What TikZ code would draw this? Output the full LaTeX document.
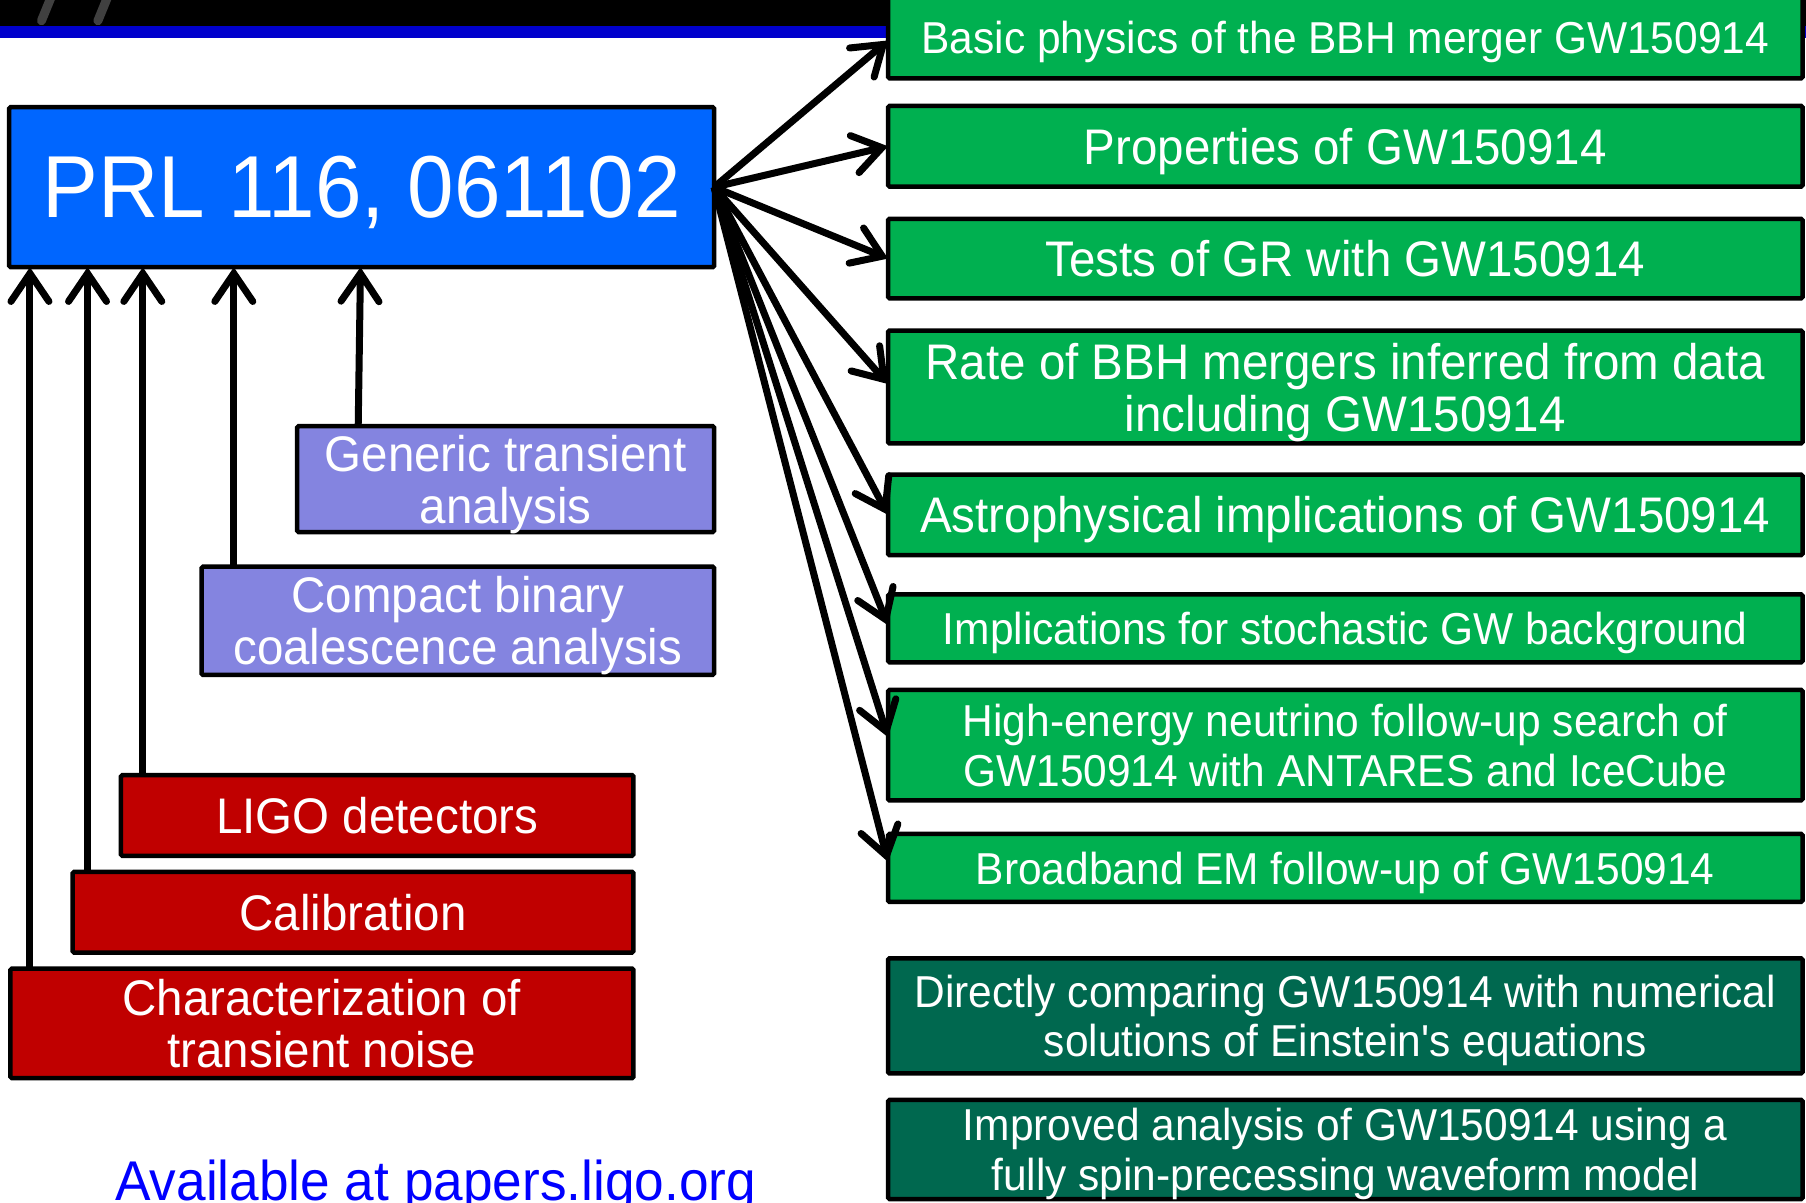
\documentclass[tikz,border=0pt]{standalone}
\usepackage{fontspec}
\setmainfont[FakeStretch=0.95,Ligatures=TeXOff]{Liberation Sans}
\usetikzlibrary{arrows.meta,calc}
\definecolor{grn}{HTML}{00B050}
\definecolor{dgrn}{HTML}{00684F}
\definecolor{prlblue}{HTML}{0066FF}
\definecolor{purp}{HTML}{8484E0}
\definecolor{rd}{HTML}{C00000}
\definecolor{stripe}{HTML}{0000CC}
\definecolor{slash}{HTML}{404040}
\newcommand\fbig{\fontsize{50pt}{52pt}\selectfont}
\newcommand\fsml{\fontsize{44.7pt}{49.5pt}\selectfont}
% \bx{style}{x1}{y1}{x2}{y2}{name}{text}
\newcommand\bx[7]{\node[#1, minimum width={(#4-#2)*1.1518pt}, minimum height={(#5-#3)*1.1518pt}] (#6) at ({(#2+#4)/2},{(#3+#5)/2}) {#7};}
\begin{document}
\begin{tikzpicture}[x=1.1518pt,y=-1.1518pt,
  box/.style={draw=black, line width=4.5pt, inner sep=0pt, outer sep=0pt,
              text=white, align=center, rounded corners=1.5pt, text depth=0pt},
  gbox/.style={box, fill=grn},
  dbox/.style={box, fill=dgrn},
  pbox/.style={box, fill=purp},
  rbox/.style={box, fill=rd},
  arr/.style={line width=7pt, -{Straight Barb[length=28pt,width=38pt,line cap=round]}}]
\useasboundingbox (0,0) rectangle (1568,1044);
\clip (0,0) rectangle (1568,1044);
\fill[white] (0,0) rectangle (1568,1044);
% header band
\fill[black] (0,-5) rectangle (1568,23);
\fill[stripe] (0,23) rectangle (1568,33);
\draw[slash, line width=9pt, line cap=round] (36,18) -- (45,-4);
\draw[slash, line width=9pt, line cap=round] (85,18) -- (94,-4);
% main node
\bx{box, fill=prlblue, font=\fontsize{88pt}{90pt}\selectfont}{8}{93}{620}{232}{prl}{PRL 116, 061102}
% green boxes
\bx{gbox, font=\fsml}{771}{-3}{1565}{68}{g1}{Basic physics of the BBH merger GW150914}
\bx{gbox, font=\fbig}{771}{92}{1565}{162}{g2}{Properties of GW150914}
\bx{gbox, font=\fbig}{771}{190}{1565}{259}{g3}{Tests of GR with GW150914}
\bx{gbox, font=\fbig}{771}{287}{1565}{385}{g4}{Rate of BBH mergers inferred from data\\including GW150914}
\bx{gbox, font=\fbig}{771}{412}{1565}{482}{g5}{Astrophysical implications of GW150914}
\bx{gbox, font=\fsml}{771}{516}{1565}{575}{g6}{Implications for stochastic GW background}
\bx{gbox, font=\fsml}{771}{599}{1565}{695}{g7}{High-energy neutrino follow-up search of\\GW150914 with ANTARES and IceCube}
\bx{gbox, font=\fsml}{771}{724}{1565}{783}{g8}{Broadband EM follow-up of GW150914}
\bx{dbox, font=\fsml}{771}{832}{1565}{932}{d9}{Directly comparing GW150914 with numerical\\solutions of Einstein's equations}
\bx{dbox, font=\fsml}{771}{955}{1565}{1041}{d10}{Improved analysis of GW150914 using a\\fully spin-precessing waveform model}
% input boxes
\bx{pbox, font=\fbig}{258}{370}{620}{462}{p1}{Generic transient\\analysis}
\bx{pbox, font=\fbig}{175}{492}{620}{586}{p2}{Compact binary\\coalescence analysis}
\bx{rbox, font=\fbig}{105}{673}{550}{743}{r1}{LIGO detectors}
\bx{rbox, font=\fbig}{63}{757}{550}{827}{r2}{Calibration}
\bx{rbox, font=\fbig}{9}{841}{550}{936}{r3}{Characterization of\\transient noise}
% footer text
\node[anchor=base west, inner sep=0pt, text={rgb,255:red,0;green,0;blue,255}, font=\fontsize{56pt}{60pt}\selectfont] (avail) at (100,1042) {Available at papers.ligo.org};
% upward arrows
\coordinate (xa) at (26,0);
\coordinate (xb) at (76,0);
\coordinate (xc) at (124,0);
\coordinate (xd) at (203,0);
\coordinate (xe) at (311,0);
\coordinate (xf) at (313,0);
\draw[arr] (r3.north -| xa) -- (prl.south -| xa);
\draw[arr] (r2.north -| xb) -- (prl.south -| xb);
\draw[arr] (r1.north -| xc) -- (prl.south -| xc);
\draw[arr] (p2.north -| xd) -- (prl.south -| xd);
\draw[arr] (p1.north -| xe) -- (prl.south -| xf);
% fan arrows
\draw[arr] (prl.east) -- ([yshift=-3pt]g1.west);
\draw[arr] (prl.east) -- (g2.west);
\draw[arr] (prl.east) -- (g3.west);
\draw[arr] (prl.east) -- ([yshift=3pt]g4.west);
\draw[arr] (prl.east) -- (g5.west);
\draw[arr] (prl.east) -- ([yshift=3pt]g6.west);
\draw[arr] (prl.east) -- ([yshift=8pt]g7.west);
\draw[arr] (prl.east) -- ([yshift=6pt]g8.west);
\end{tikzpicture}
\end{document}
